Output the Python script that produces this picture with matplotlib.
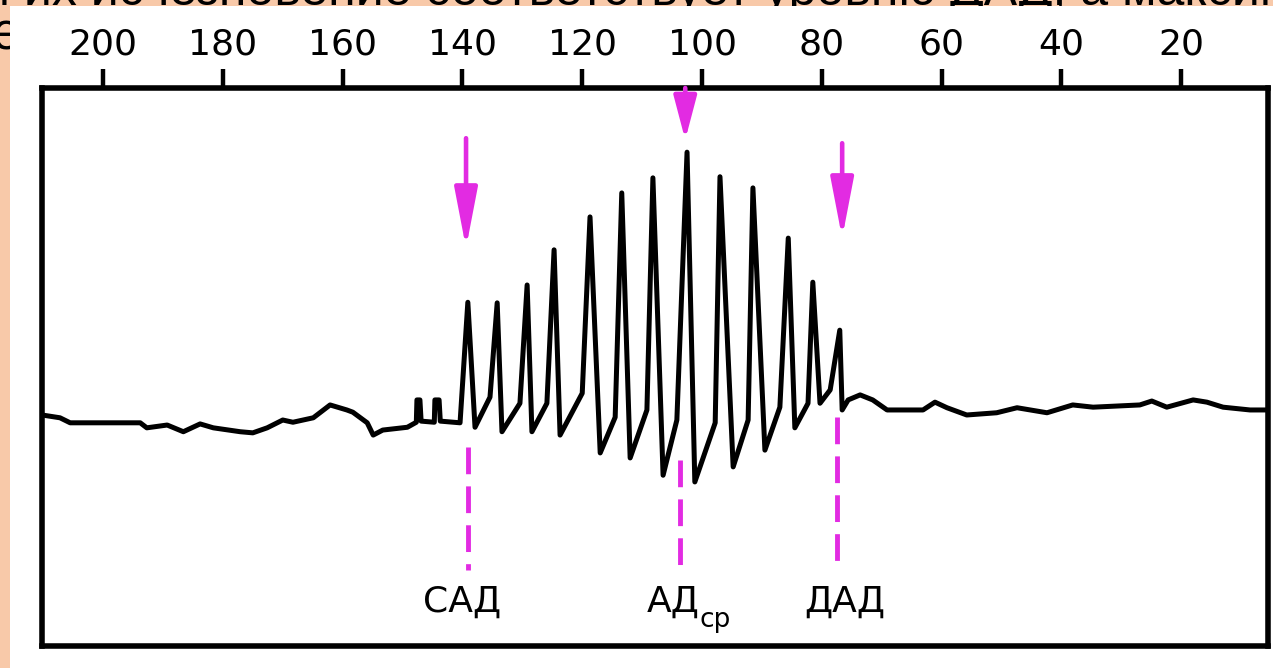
import matplotlib
matplotlib.use('Agg')
import matplotlib.pyplot as plt
from matplotlib.patches import Rectangle

# ---------------- data ----------------
tick_pressures = [200, 180, 160, 140, 120, 100, 80, 60, 40, 20]
tick_labels = [str(v) for v in tick_pressures]

# cuff pressure (mmHg) and oscillation amplitude (arbitrary units 0..100)
cuff_pressure = [
    210.2, 207.2, 205.5, 193.8, 192.7, 189.3, 186.6, 183.8, 181.6, 177.1,
    175.0, 172.6, 170.0, 168.3, 164.9, 162.1, 159.3, 158.3, 155.9, 154.9,
    153.3, 149.2, 147.7, 147.6, 147.1, 146.9, 144.7, 144.6, 143.9, 143.7,
    140.4,
    139.1, 137.9, 135.4, 134.2, 133.4, 130.4, 129.2, 128.4, 125.9, 124.7,
    123.7, 120.0, 118.7, 117.0, 114.5, 113.4, 112.0, 109.2, 108.2, 106.5,
    104.2, 102.5, 101.2, 97.8, 97.0, 94.8, 92.3, 91.5, 89.5, 87.0,
    85.6, 84.5, 82.3, 81.5, 80.3, 78.6, 77.0, 76.6, 75.6, 73.6,
    71.5, 69.1, 63.1, 61.1, 59.1, 55.8, 50.8, 47.4, 42.4, 38.1,
    34.7, 26.9, 24.9, 22.4, 18.0, 15.7, 13.0, 8.5, 5.5]

oscill_amplitude = [
    41.4, 40.9, 40.0, 40.0, 39.1, 39.6, 38.4, 39.8, 39.1, 38.4,
    38.2, 39.1, 40.5, 40.1, 40.9, 43.2, 42.3, 41.9, 40.0, 37.8,
    38.7, 39.2, 40.1, 44.1, 44.1, 40.3, 40.1, 44.1, 44.1, 40.3,
    40.0,
    61.6, 39.2, 44.6, 61.5, 38.4, 43.5, 64.7, 38.4, 43.5, 71.0,
    37.8, 45.3, 76.9, 34.6, 41.0, 81.2, 33.7, 42.3, 83.9, 30.6,
    40.5, 88.5, 29.4, 40.0, 84.1, 32.1, 40.5, 82.1, 35.1, 42.8,
    73.1, 39.1, 43.5, 65.2, 43.5, 45.9, 56.6, 42.3, 44.1, 45.0,
    44.1, 42.3, 42.3, 43.7, 42.7, 41.4, 41.8, 42.7, 41.8, 43.2,
    42.8, 43.2, 43.9, 42.8, 44.1, 43.7, 42.8, 42.3, 42.3]

marker_names = ['САД', 'АД', 'ДАД']
marker_sub = ['', 'ср', '']
arrow_pressure = [139.4, 102.8, 76.6]
line_pressure = [139.1, 103.7, 77.5]

slide_text_top = 'и их исчезновение соответствует уровню ДАД, а максим'
slide_text_left = 'е'

# ---------------- layout / style ----------------
W, H, DPI = 1273, 668, 100
PEACH = '#F8C9A9'
MAG = '#E22BE2'

fig = plt.figure(figsize=(W / DPI, H / DPI), dpi=DPI)
fig.patch.set_facecolor(PEACH)

# slide text peeking out behind the picture
fig.text(-18 / W, 1 - 5 / H, slide_text_top, fontsize=36,
         family=['Liberation Sans', 'DejaVu Sans'], va='baseline', ha='left',
         color='black', zorder=-3)
fig.text(-8 / W, 1 - 50 / H, slide_text_left, fontsize=37,
         family=['Liberation Sans', 'DejaVu Sans'], va='baseline', ha='left',
         color='black', zorder=-3)

# white picture area
fig.add_artist(Rectangle((10 / W, 0), 1 - 10 / W, 1 - 6 / H,
                         transform=fig.transFigure, facecolor='white',
                         edgecolor='none', zorder=-1))

ax = fig.add_axes([42 / W, 22 / H, 1226 / W, 558 / H])
ax.set_facecolor('white')
ax.set_xlim(210.2, 5.5)
ax.set_ylim(0, 100)

for s in ax.spines.values():
    s.set_linewidth(4.0)
    s.set_color('black')

ax.xaxis.set_ticks_position('top')
ax.set_xticks(tick_pressures)
ax.set_xticklabels(tick_labels)
ax.tick_params(axis='x', direction='out', length=13.5, width=3.2, pad=5.5,
               labelsize=26, top=True, bottom=False,
               labeltop=True, labelbottom=False, colors='black')
ax.set_yticks([])

# oscillogram
ax.plot(cuff_pressure, oscill_amplitude, color='black', lw=3.6,
        solid_joinstyle='round', solid_capstyle='round', zorder=3)

# arrows
arrow_y = [(91.0, 71.3), (100.0, 90.7), (90.1, 73.1)]
head_len = [2.6, 1.9, 2.6]
for p, (y0, y1), hl in zip(arrow_pressure, arrow_y, head_len):
    ax.annotate('', xy=(p, y1), xytext=(p, y0),
                arrowprops=dict(arrowstyle=f'-|>,head_length={hl},head_width=0.5',
                                color=MAG, lw=3.3, mutation_scale=14,
                                shrinkA=0, shrinkB=0),
                annotation_clip=False, zorder=4)

# dashed marker lines
dash_y = [(35.7, 13.6), (33.3, 13.3), (41.0, 14.9)]
for p, (y0, y1) in zip(line_pressure, dash_y):
    ln, = ax.plot([p, p], [y0, y1], color=MAG, lw=3.5, zorder=2)
    ln.set_dashes((5.5, 2.5))

# labels
label_font = dict(fontsize=26, family='DejaVu Sans', color='black')
for name, sub, p in zip(marker_names, marker_sub, arrow_pressure):
    if sub:
        t = ax.text(p + 2.0, 6.1, name, ha='center', va='baseline', **label_font)
        ax.annotate(sub, xy=(1.0, 0.0), xycoords=t, xytext=(0, -1),
                    textcoords='offset points', ha='left', va='center',
                    fontsize=19, family='DejaVu Sans', color='black')
    else:
        ax.text(p + 0.6 if name == 'САД' else p - 0.4, 6.1, name,
                ha='center', va='baseline', **label_font)

fig.savefig('out.png', dpi=DPI, facecolor=fig.get_facecolor())
